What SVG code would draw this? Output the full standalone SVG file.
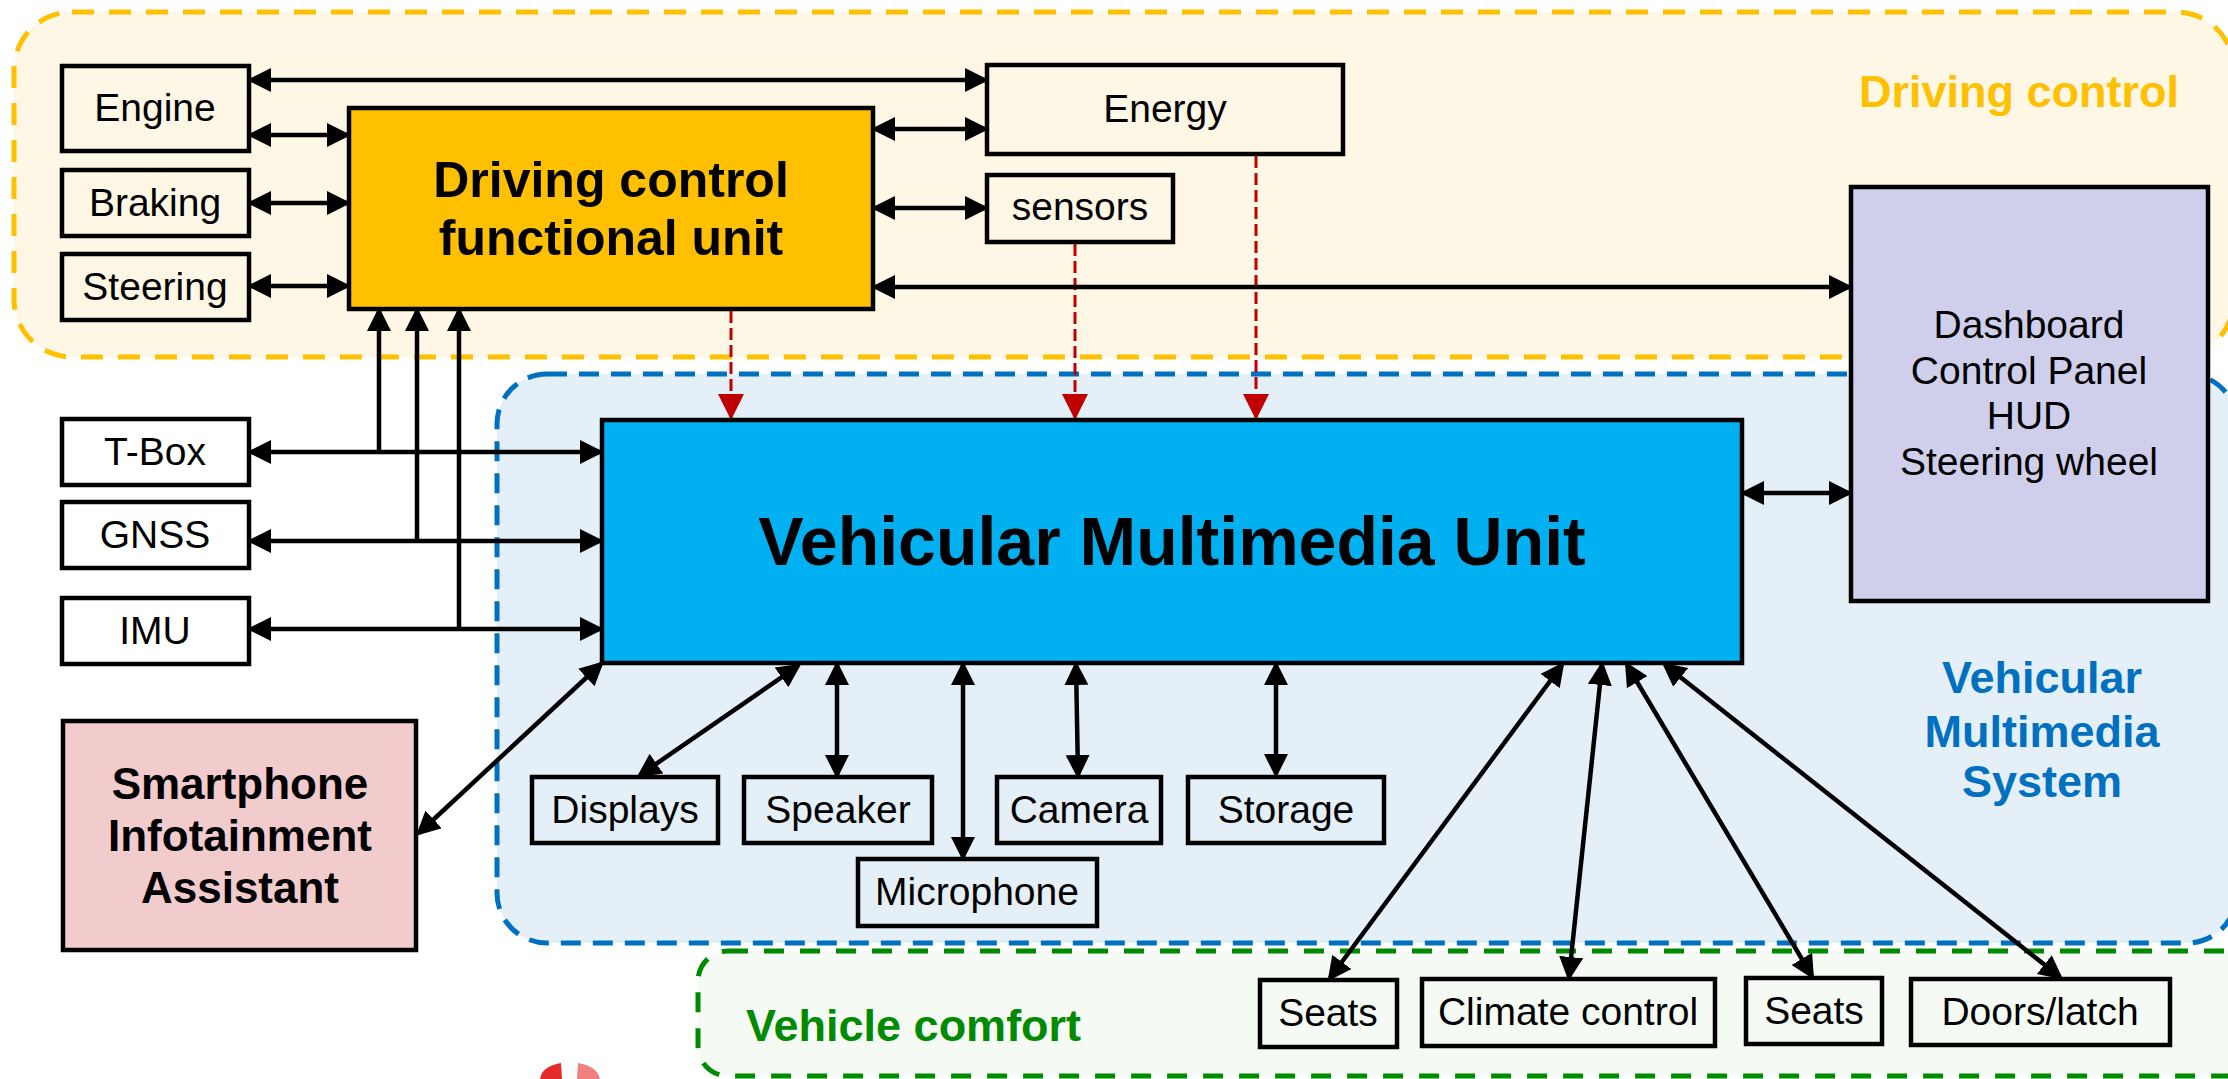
<svg xmlns="http://www.w3.org/2000/svg" width="2228" height="1079" viewBox="0 0 2228 1079">
<style>
.box{stroke:#000;stroke-width:4.5}
.w{fill:none}
.t{font-family:"Liberation Sans",Arial,sans-serif;font-size:39px;fill:#000;text-anchor:middle}
.b{font-family:"Liberation Sans",Arial,sans-serif;font-weight:bold;text-anchor:middle;fill:#000}
.c{stroke:#000;stroke-width:4.5;fill:none;marker-start:url(#ah);marker-end:url(#ah)}
.c1{stroke:#000;stroke-width:4.5;fill:none;marker-end:url(#ah)}
.r{stroke:#C00000;stroke-width:3;stroke-dasharray:12 5;fill:none;marker-end:url(#rh)}
</style>
<defs>
<marker id="ah" markerUnits="userSpaceOnUse" markerWidth="24" markerHeight="24" viewBox="0 0 24 24" refX="20" refY="12" orient="auto-start-reverse">
<path d="M0,0 L24,12 L0,24 z" fill="#000"/>
</marker>
<marker id="rh" markerUnits="userSpaceOnUse" markerWidth="26" markerHeight="26" viewBox="0 0 26 26" refX="24" refY="13" orient="auto">
<path d="M0,0 L26,13 L0,26 z" fill="#C00000"/>
</marker>
</defs>
<rect width="2228" height="1079" fill="#fff"/>
<g id="region-driving">
<rect x="14" y="12" width="2220" height="345" rx="58" fill="#FFF7E5" stroke="#FFC000" stroke-width="5" stroke-dasharray="22 15"/>
<text x="2179" y="107" class="b" style="font-size:45px;fill:#FFC000;text-anchor:end">Driving control</text>
</g>
<g id="region-multimedia">
<rect x="497" y="374" width="1740" height="569" rx="50" fill="#E5EFF8" stroke="#0070C0" stroke-width="5" stroke-dasharray="20 12"/>
<text class="b" style="font-size:45px;fill:#0070C0"><tspan x="2042" y="693">Vehicular</tspan><tspan x="2042" y="747">Multimedia</tspan><tspan x="2042" y="797">System</tspan></text>
</g>
<g id="region-comfort">
<rect x="698" y="951" width="1560" height="125" rx="30" fill="#F5FBF4" stroke="#008A00" stroke-width="5" stroke-dasharray="20 16"/>
<text x="746" y="1041" class="b" style="font-size:45px;fill:#008A00;text-anchor:start">Vehicle comfort</text>
</g>
<g id="logo">
<path d="M540,1079 Q542,1066 561,1063 L562,1079 z" fill="#E52A2A"/>
<path d="M577,1079 L578,1063 Q597,1066 600,1079 z" fill="#F08080"/>
</g>
<g id="connectors">
<line class="r" x1="731" y1="311" x2="731" y2="418"/>
<line class="r" x1="1075" y1="244" x2="1075" y2="418"/>
<line class="r" x1="1256" y1="156" x2="1256" y2="418"/>
<line class="c" x1="251" y1="80" x2="985" y2="80"/>
<line class="c" x1="251" y1="135" x2="347" y2="135"/>
<line class="c" x1="251" y1="203" x2="347" y2="203"/>
<line class="c" x1="251" y1="286" x2="347" y2="286"/>
<line class="c" x1="875" y1="129" x2="985" y2="129"/>
<line class="c" x1="875" y1="208" x2="985" y2="208"/>
<line class="c" x1="875" y1="287" x2="1849" y2="287"/>
<line class="c" x1="1744" y1="493" x2="1849" y2="493"/>
<line class="c" x1="251" y1="452" x2="600" y2="452"/>
<line class="c" x1="251" y1="541" x2="600" y2="541"/>
<line class="c" x1="251" y1="629" x2="600" y2="629"/>
<line class="c1" x1="379" y1="452" x2="379" y2="311"/>
<line class="c1" x1="417" y1="541" x2="417" y2="311"/>
<line class="c1" x1="459" y1="629" x2="459" y2="311"/>
<line class="c" x1="601" y1="664" x2="419" y2="833"/>
<line class="c" x1="798" y1="666" x2="640" y2="775"/>
<line class="c" x1="837" y1="665" x2="837" y2="775"/>
<line class="c" x1="963" y1="665" x2="963" y2="857"/>
<line class="c" x1="1076" y1="665" x2="1078" y2="775"/>
<line class="c" x1="1276" y1="665" x2="1276" y2="774"/>
<line class="c" x1="1562" y1="665" x2="1330" y2="978"/>
<line class="c" x1="1602" y1="665" x2="1569" y2="977"/>
<line class="c" x1="1627" y1="665" x2="1812" y2="976"/>
<line class="c" x1="1665" y1="665" x2="2060" y2="977"/>
</g>
<g id="engine"><rect class="box w" x="62" y="66" width="187" height="85"/><text class="t" x="155" y="121">Engine</text></g>
<g id="braking"><rect class="box w" x="62" y="170" width="187" height="66"/><text class="t" x="155" y="216">Braking</text></g>
<g id="steering"><rect class="box w" x="62" y="254" width="187" height="66"/><text class="t" x="155" y="300">Steering</text></g>
<g id="dcu"><rect class="box" fill="#FFC000" x="349" y="108" width="524" height="201"/><text class="b" style="font-size:50px"><tspan x="611" y="197">Driving control</tspan><tspan x="611" y="255">functional unit</tspan></text></g>
<g id="energy"><rect class="box w" x="987" y="65" width="356" height="89"/><text class="t" x="1165" y="122">Energy</text></g>
<g id="sensors"><rect class="box w" x="987" y="175" width="186" height="67"/><text class="t" x="1080" y="220">sensors</text></g>
<g id="dashboard"><rect class="box" fill="#CFCFEC" x="1851" y="187" width="357" height="414"/><text class="t"><tspan x="2029" y="338">Dashboard</tspan><tspan x="2029" y="383.5">Control Panel</tspan><tspan x="2029" y="429">HUD</tspan><tspan x="2029" y="474.5">Steering wheel</tspan></text></g>
<g id="tbox"><rect class="box" fill="#fff" x="62" y="419" width="187" height="66"/><text class="t" x="155" y="465">T-Box</text></g>
<g id="gnss"><rect class="box" fill="#fff" x="62" y="502" width="187" height="66"/><text class="t" x="155" y="548">GNSS</text></g>
<g id="imu"><rect class="box" fill="#fff" x="62" y="598" width="187" height="66"/><text class="t" x="155" y="644">IMU</text></g>
<g id="smartphone"><rect class="box" fill="#F2CBCC" x="63" y="721" width="353" height="229"/><text class="b" style="font-size:44px"><tspan x="240" y="799">Smartphone</tspan><tspan x="240" y="851">Infotainment</tspan><tspan x="240" y="903">Assistant</tspan></text></g>
<g id="vmu"><rect class="box" fill="#00B0F0" x="602" y="420" width="1140" height="243"/><text class="b" style="font-size:68px" x="1172" y="565">Vehicular Multimedia Unit</text></g>
<g id="displays"><rect class="box w" x="532" y="777" width="186" height="66"/><text class="t" x="625" y="823">Displays</text></g>
<g id="speaker"><rect class="box w" x="744" y="777" width="188" height="66"/><text class="t" x="838" y="823">Speaker</text></g>
<g id="microphone"><rect class="box w" x="858" y="859" width="239" height="67"/><text class="t" x="977" y="905">Microphone</text></g>
<g id="camera"><rect class="box w" x="997" y="777" width="164" height="66"/><text class="t" x="1079" y="823">Camera</text></g>
<g id="storage"><rect class="box w" x="1188" y="777" width="196" height="66"/><text class="t" x="1286" y="823">Storage</text></g>
<g id="seats1"><rect class="box w" x="1260" y="980" width="137" height="67"/><text class="t" x="1328" y="1026">Seats</text></g>
<g id="climate"><rect class="box w" x="1422" y="979" width="293" height="67"/><text class="t" x="1568" y="1025">Climate control</text></g>
<g id="seats2"><rect class="box w" x="1746" y="978" width="136" height="66"/><text class="t" x="1814" y="1024">Seats</text></g>
<g id="doors"><rect class="box w" x="1911" y="979" width="259" height="66"/><text class="t" x="2040" y="1025">Doors/latch</text></g>
</svg>
